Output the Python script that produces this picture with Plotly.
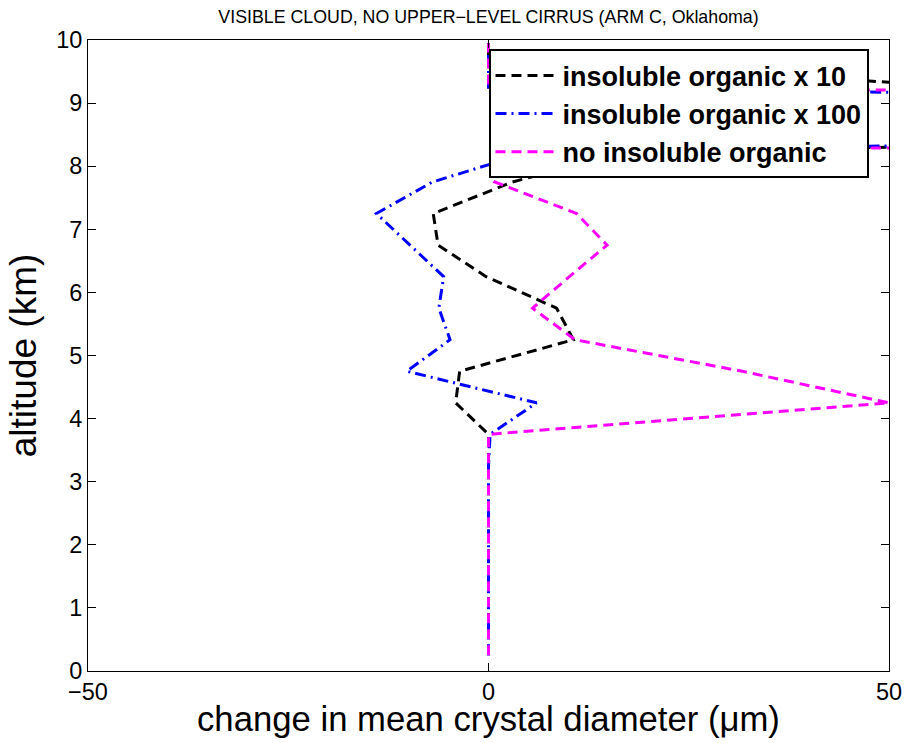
import plotly.graph_objects as go

altitude_km = [0.25, 0.75, 1.25, 1.75, 2.25, 2.75, 3.25, 3.75, 4.25, 4.75,
               5.25, 5.75, 6.25, 6.75, 7.25, 7.75, 8.25, 8.75, 9.25, 9.75, 9.95]

insol_x10 = [0, 0, 0, 0, 0, 0, 0, 0, -4.1, -3.6,
             10.6, 8.5, -0.3, -6.3, -6.9, 3.0, 18.0, 338.0, 59.5, 0, 0]
insol_x100 = [0, 0, 0, 0, 0, 0, 0, 0.2, 6.0, -10.2,
              -4.8, -6.2, -5.6, -9.8, -14.0, -7.0, 5.8, 321.0, 0, 0, 0]
no_insol = [0, 0, 0, 0, 0, 0, 0, 0, 50.0, 31.7,
            10.8, 5.5, 10.1, 14.8, 11.0, 0.8, 4.0, 580.0, 0, 0, 0]

series_names = ["insoluble organic x 10", "insoluble organic x 100", "no insoluble organic"]
x_ticks = [-50, 0, 50]
y_ticks = [0, 1, 2, 3, 4, 5, 6, 7, 8, 9, 10]

title_text = "VISIBLE CLOUD, NO UPPER\u2212LEVEL CIRRUS (ARM C, Oklahoma)"
x_title = "change in mean crystal diameter (\u03bcm)"
y_title = "altitude (km)"

FONT = "Liberation Sans, Arial, sans-serif"

fig = go.Figure()
fig.add_trace(go.Scatter(x=insol_x10, y=altitude_km, mode="lines", name=series_names[0],
                         line=dict(color="#000000", width=3, dash="10px,6px")))
fig.add_trace(go.Scatter(x=insol_x100, y=altitude_km, mode="lines", name=series_names[1],
                         line=dict(color="#0000ff", width=3, dash="11px,5px,2px,5px")))
fig.add_trace(go.Scatter(x=no_insol, y=altitude_km, mode="lines", name=series_names[2],
                         line=dict(color="#ff00ff", width=3, dash="10px,6px")))

axis_common = dict(showgrid=False, zeroline=False, showline=True, linecolor="black",
                   linewidth=1, mirror="ticks", ticks="inside", ticklen=8,
                   tickcolor="black", tickwidth=1, automargin=False,
                   tickfont=dict(family=FONT, size=23.5, color="black"))

fig.update_layout(
    width=904, height=743,
    margin=dict(l=88, r=15, t=40, b=72),
    paper_bgcolor="white", plot_bgcolor="white",
    title=dict(text=title_text, xref="paper", x=0.5, xanchor="center",
               y=0.978, yanchor="middle",
               font=dict(family=FONT, size=17.8, color="black")),
    xaxis=dict(range=[-50, 50], tickvals=x_ticks, **axis_common),
    yaxis=dict(range=[0, 10], tickvals=y_ticks,
               title=dict(text=y_title, font=dict(family=FONT, size=37, color="black"), standoff=8),
               **axis_common),
    legend=dict(x=0.5, xanchor="left", y=0.985, yanchor="top",
                bgcolor="white", bordercolor="black", borderwidth=2,
                font=dict(family=FONT, size=27, color="black", weight="bold"),
                itemwidth=62, tracegroupgap=0),
    showlegend=True,
    annotations=[dict(text=x_title, xref="paper", yref="paper", x=0.5, y=0,
                      xanchor="center", yanchor="middle", yshift=-48, showarrow=False,
                      font=dict(family=FONT, size=34.7, color="black"))],
)

fig.write_html("out.html", config={"displayModeBar": False},
               post_script="document.body.style.margin='0';document.body.style.overflow='hidden';")
